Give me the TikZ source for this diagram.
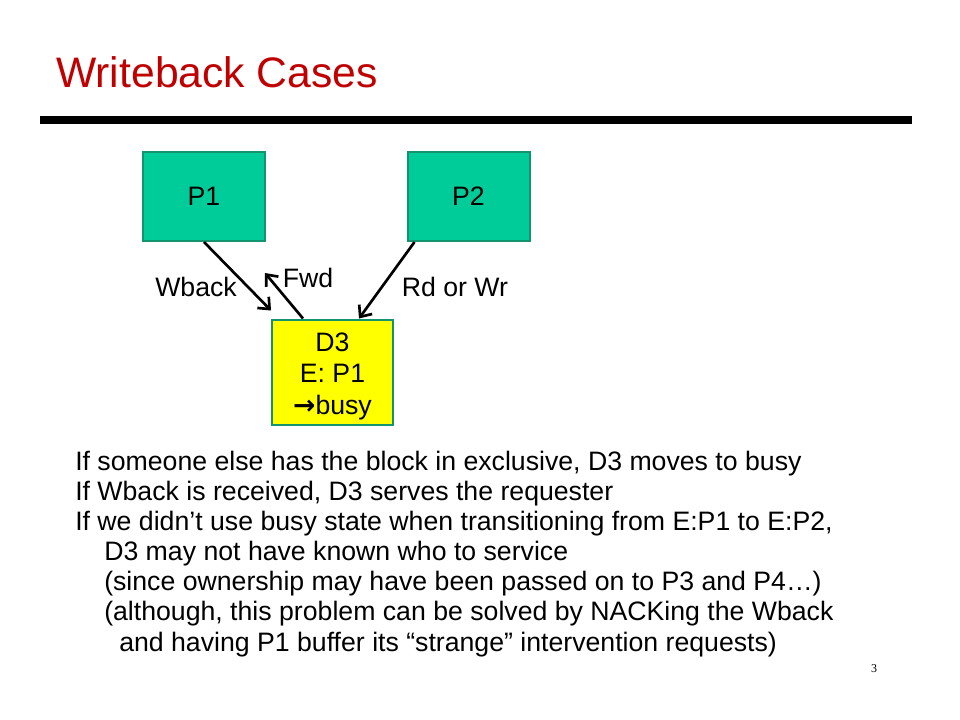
\documentclass[tikz,border=0pt]{standalone}
\usepackage{fontspec}
\setmainfont{Liberation Sans}
\newfontfamily\pagefont{Liberation Serif}
\newfontfamily\arrowfont{DejaVu Sans}
\usepackage{xcolor}
\usetikzlibrary{calc,arrows.meta,positioning}
\definecolor{titlered}{HTML}{C00000}
\definecolor{procteal}{HTML}{00CC99}
\definecolor{boxedge}{HTML}{14936F}
\definecolor{dirfill}{HTML}{FFFF00}
\tikzset{
  procbox/.style={draw=boxedge, fill=procteal, line width=1.5pt, minimum width=91.5pt, minimum height=66.75pt, inner sep=0pt, font=\fontsize{20}{24}\selectfont},
  dirbox/.style={draw=boxedge, fill=dirfill, line width=1.5pt, minimum width=90.75pt, minimum height=78.75pt, inner sep=0pt, align=center, font=\fontsize{20}{23.6}\selectfont},
  msgarrow/.style={draw=black, line width=2pt, -{Straight Barb[length=7pt,width=12pt,line width=2pt]}},
  msglab/.style={font=\fontsize{20}{24}\selectfont, inner sep=0pt},
  bodyline/.style={anchor=base west, inner sep=0pt, font=\fontsize{20}{24}\selectfont},
}

\begin{document}
\begin{tikzpicture}[x=0.75pt,y=-0.75pt]
  \useasboundingbox (0,0) rectangle (960,720);
  % title and rule
  \node[anchor=base west, inner sep=0pt, text=titlered, font=\fontsize{32}{38}\selectfont] (title) at (56,88) {Writeback Cases};
  \fill[black] (40,116) rectangle (912,124);
  % processors and directory
  \node[procbox] (P1) at (204,196.5) {P1};
  \node[procbox] (P2) at (468.5,196.5) {P2};
  \node[dirbox] (D3) at (332.5,372) {\rule{0pt}{20.3pt}D3\\E: P1\\{\arrowfont\bfseries →}busy};
  % message end points
  \coordinate (wbend) at ($(D3.north west)+(0,-8)$);
  \coordinate (fwdstart) at ($(D3.north west)+(32,0)$);
  \coordinate (fwdend) at (265,273);
  \coordinate (rdstart) at ($(P2.south west)+(8,0)$);
  \coordinate (rdend) at ($(D3.north west)+(88,0)$);
  \draw[msgarrow] (P1.south) -- (wbend);
  \draw[msgarrow] (fwdstart) -- (fwdend);
  \draw[msgarrow] (rdstart) -- (rdend);
  \node[msglab] (wblab) at (196,287) {Wback};
  \node[msglab] (fwdlab) at (308,278) {Fwd};
  \node[msglab] (rdlab) at (455,287) {Rd or Wr};
  % notes
  \node[bodyline] (n1) at (75,470) {If someone else has the block in exclusive, D3 moves to busy};
  \node[bodyline] (n2) at (75,500.2) {If Wback is received, D3 serves the requester};
  \node[bodyline] (n3) at (75,530.3) {If we didn’t use busy state when transitioning from E:P1 to E:P2,};
  \node[bodyline] (n4) at (104,560.5) {D3 may not have known who to service};
  \node[bodyline] (n5) at (104,590.7) {(since ownership may have been passed on to P3 and P4…)};
  \node[bodyline] (n6) at (104,620.8) {(although, this problem can be solved by NACKing the Wback};
  \node[bodyline] (n7) at (119,651) {and having P1 buffer its “strange” intervention requests)};
  \node[inner sep=0pt, font=\pagefont\fontsize{9}{11}\selectfont] (pagenum) at (874,669) {3};
\end{tikzpicture}
\end{document}
